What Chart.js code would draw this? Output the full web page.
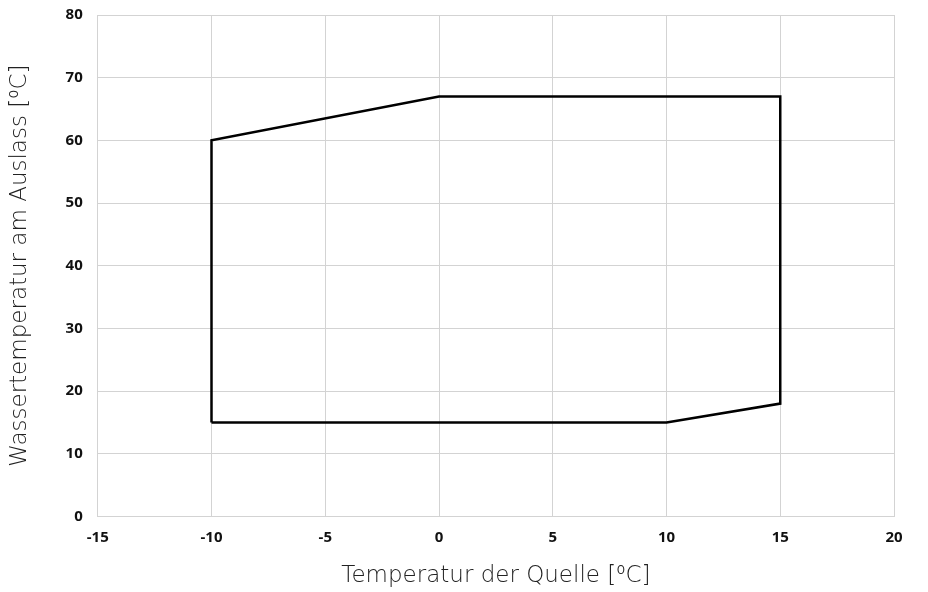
<!DOCTYPE html>
<html>
<head>
<meta charset="utf-8">
<script src="https://cdn.jsdelivr.net/npm/chart.js@4.4.1/dist/chart.umd.min.js"></script>
<style>
  html, body { margin: 0; padding: 0; background: #fff; }
  #wrap { width: 928px; height: 592px; }
</style>
</head>
<body>
<div id="wrap"><canvas id="envelopeChart" width="928" height="592"></canvas></div>
<script>
// Einsatzgrenze: Quelle vs. Auslass (Polygon, im Uhrzeigersinn)
const sourceTemp = [-10, -10, 0, 15, 15, 10, -10];
const outletTemp = [15, 60, 67, 67, 18, 15, 15];

const xTicks = [-15, -10, -5, 0, 5, 10, 15, 20];
const yTicks = [0, 10, 20, 30, 40, 50, 60, 70, 80];

const xTitle = 'Temperatur der Quelle [\u2070C]';
const yTitle = 'Wassertemperatur am Auslass [\u2070C]';

const points = sourceTemp.map((x, i) => ({ x: x, y: outletTemp[i] }));

const gridColor = '#d3d3d3';
const tickFont = { family: 'Open Sans', size: 15, weight: 'bold' };
const titleFont = { family: 'DejaVu Sans', size: 23, weight: '200' };

const ctx = document.getElementById('envelopeChart').getContext('2d');

new Chart(ctx, {
  type: 'scatter',
  data: {
    datasets: [{
      data: points,
      showLine: true,
      borderColor: '#000',
      borderWidth: 2.5,
      pointRadius: 0,
      fill: false,
      tension: 0
    }]
  },
  options: {
    responsive: false,
    animation: false,
    layout: { padding: { top: 15, right: 34, bottom: 2, left: 6 } },
    plugins: {
      legend: { display: false },
      tooltip: { enabled: false }
    },
    scales: {
      x: {
        type: 'linear',
        min: xTicks[0],
        max: xTicks[xTicks.length - 1],
        afterBuildTicks: (axis) => { axis.ticks = xTicks.map(v => ({ value: v })); },
        grid: { color: gridColor, drawTicks: false },
        border: { color: gridColor },
        ticks: { color: '#111', font: tickFont, padding: 12 },
        title: { display: true, text: xTitle, color: '#222', font: titleFont, padding: { top: 4, bottom: 0 } }
      },
      y: {
        type: 'linear',
        min: yTicks[0],
        max: yTicks[yTicks.length - 1],
        afterBuildTicks: (axis) => { axis.ticks = yTicks.map(v => ({ value: v })); },
        afterFit: (axis) => { axis.paddingTop = 0; axis.paddingBottom = 0; },
        grid: { color: gridColor, drawTicks: false },
        border: { color: gridColor },
        ticks: { color: '#111', font: tickFont, padding: 15 },
        title: { display: true, text: yTitle, color: '#222', font: titleFont, padding: { top: 0, bottom: 17 } }
      }
    }
  }
});
</script>
</body>
</html>
